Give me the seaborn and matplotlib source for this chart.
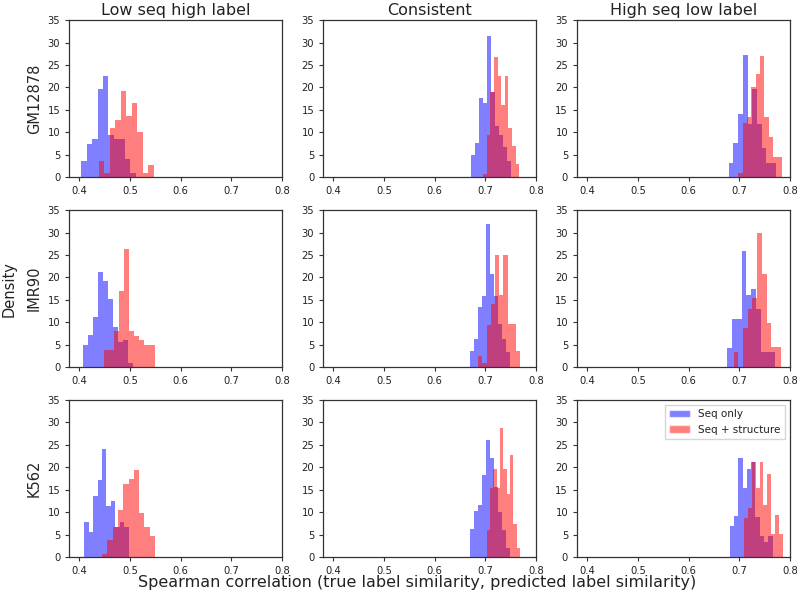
import numpy as np
import pandas as pd
import matplotlib
matplotlib.use("Agg")
import matplotlib.pyplot as plt
from matplotlib.patches import Patch
import seaborn as sns

cell_lines = ["GM12878", "IMR90", "K562"]
conditions = ["Low seq high label", "Consistent", "High seq low label"]
series_names = ["Seq only", "Seq + structure"]

# bin range (first edge, last edge) of each 10-bin histogram, rows = cell lines, cols = conditions
seq_lo = [[0.404, 0.6725, 0.6792], [0.4066, 0.670, 0.6766], [0.4099, 0.670, 0.6812]]
seq_hi = [[0.511, 0.751, 0.7717], [0.5056, 0.748, 0.7703], [0.497, 0.748, 0.7657]]
struct_lo = [[0.438, 0.6955, 0.6977], [0.448, 0.6857, 0.689], [0.445, 0.7026, 0.7095]]
struct_hi = [[0.547, 0.767, 0.7836], [0.5485, 0.7686, 0.7815], [0.549, 0.7686, 0.7855]]

# densities per bin
seq_density = [
    [[3.7, 7.5, 8.4, 19.7, 22.5, 9.4, 8.4, 8.4, 4.0, 1.0],
     [5.0, 7.6, 17.7, 16.5, 31.5, 18.9, 11.3, 9.3, 6.7, 3.7],
     [3.2, 7.6, 14.1, 27.3, 11.9, 19.7, 11.9, 6.4, 3.2, 3.2]],
    [[5.0, 7.1, 11.2, 21.2, 19.1, 15.2, 9.0, 5.5, 6.0, 1.0],
     [3.6, 6.2, 13.3, 15.9, 31.9, 20.7, 15.9, 9.6, 6.2, 3.3],
     [4.2, 10.8, 10.8, 25.9, 16.1, 17.4, 12.9, 3.3, 3.3, 3.3]],
    [[7.8, 5.6, 13.6, 17.1, 24.0, 11.3, 12.5, 6.7, 7.8, 6.7],
     [6.3, 10.3, 11.5, 18.2, 26.1, 22.0, 15.6, 10.0, 6.0, 2.0],
     [6.9, 9.1, 22.1, 15.3, 19.7, 21.2, 8.9, 4.6, 3.4, 4.6]],
]
struct_density = [
    [[3.7, 0.9, 11.0, 12.8, 19.3, 13.7, 16.5, 10.0, 1.0, 2.8],
     [0.6, 9.3, 18.9, 26.7, 22.5, 16.0, 22.5, 11.0, 7.0, 3.0],
     [1.0, 12.0, 13.5, 20.0, 23.0, 27.0, 13.5, 9.0, 4.5, 4.5]],
    [[3.9, 3.9, 8.0, 17.0, 26.3, 8.1, 7.0, 6.1, 5.0, 5.0],
     [2.4, 1.0, 9.4, 14.0, 25.0, 16.0, 25.0, 9.6, 9.6, 3.6],
     [3.3, 0.0, 8.7, 12.9, 15.4, 29.8, 20.7, 9.8, 4.4, 4.4]],
    [[0.7, 3.7, 6.7, 10.4, 16.2, 17.3, 19.4, 9.7, 6.7, 4.7],
     [6.0, 15.3, 19.7, 15.3, 28.7, 19.7, 14.0, 22.7, 7.4, 2.0],
     [8.6, 10.8, 21.2, 15.3, 21.2, 11.5, 18.6, 5.2, 9.3, 5.2]],
]

x_ticks = [0.4, 0.5, 0.6, 0.7, 0.8]
y_ticks = [0, 5, 10, 15, 20, 25, 30, 35]

sns.set_style("ticks")
plt.rcParams["font.family"] = ["DejaVu Sans"]
plt.rcParams["axes.edgecolor"] = "#333333"
plt.rcParams["text.color"] = "#222222"
plt.rcParams["xtick.color"] = "#333333"
plt.rcParams["ytick.color"] = "#333333"
plt.rcParams["xtick.labelcolor"] = "#222222"
plt.rcParams["ytick.labelcolor"] = "#222222"

fig, axes = plt.subplots(3, 3, figsize=(8, 5.95), dpi=100)
fig.subplots_adjust(left=0.0865, right=0.9875, top=0.966, bottom=0.064,
                    wspace=0.193, hspace=0.21)

def draw(ax, lo, hi, dens, color):
    n = len(dens)
    step = (hi - lo) / n
    centers = [lo + step * (k + 0.5) for k in range(n)]
    df = pd.DataFrame({"x": centers, "w": dens})
    sns.histplot(data=df, x="x", weights="w", bins=n, binrange=(lo, hi),
                 stat="count", color=color, alpha=0.5, linewidth=0, ax=ax)

for i, cl in enumerate(cell_lines):
    for j, cond in enumerate(conditions):
        ax = axes[i, j]
        draw(ax, seq_lo[i][j], seq_hi[i][j], seq_density[i][j], "blue")
        draw(ax, struct_lo[i][j], struct_hi[i][j], struct_density[i][j], "red")
        ax.set_xlim(0.38, 0.80)
        ax.set_ylim(0, 35)
        ax.set_xticks(x_ticks)
        ax.set_xticklabels([f"{t:.1f}" for t in x_ticks])
        ax.set_yticks(y_ticks)
        ax.tick_params(labelsize=7.2, length=3, width=0.8)
        for s in ax.spines.values():
            s.set_linewidth(0.9)
        ax.set_xlabel("")
        if j == 0:
            ax.set_ylabel(cl, fontsize=10.5)
        else:
            ax.set_ylabel("")
        if i == 0:
            ax.set_title(cond, fontsize=11.5, pad=4)

handles = [Patch(facecolor="blue", alpha=0.5, label=series_names[0]),
           Patch(facecolor="red", alpha=0.5, label=series_names[1])]
axes[2, 2].legend(handles=handles, loc="upper right", fontsize=7.5,
                  frameon=True, fancybox=False)

fig.text(0.012, 0.514, "Density", rotation=90, ha="center", va="center", fontsize=10.5)
xl = fig.text(138 / 800, 1 - 583 / 595,
              "Spearman correlation (true label similarity, predicted label similarity)",
              ha="left", va="center", fontsize=11.5)
fig.canvas.draw()
w = xl.get_window_extent(fig.canvas.get_renderer()).width
xl.set_fontsize(11.5 * 559 / w)

fig.savefig("out.png", dpi=100)
